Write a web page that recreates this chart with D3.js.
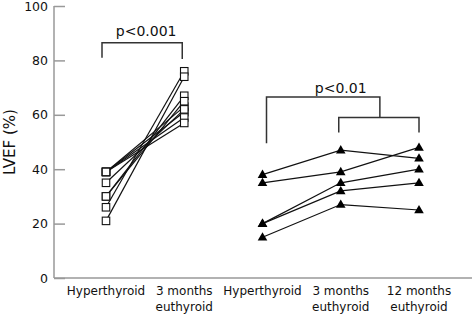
<!DOCTYPE html>
<html>
<head>
<meta charset="utf-8">
<script src="https://cdn.jsdelivr.net/npm/d3@7"></script>
<style>
  body { margin: 0; background: #fff; }
  svg { font-family: 'DejaVu Sans', sans-serif; }
  .axis path, .axis line { stroke: #999; stroke-width: 1.5; }
  .subject { fill: none; stroke: #111; stroke-width: 1.2; }
  .bracket { fill: none; stroke: #333; stroke-width: 1.5; }
</style>
</head>
<body>
<div id="chart"></div>
<script>
// Data
const CATEGORIES = ['g1-hyper', 'g1-3m', 'g2-hyper', 'g2-3m', 'g2-12m'];
const CATEGORY_LABELS = [
  ['Hyperthyroid'],
  ['3 months', 'euthyroid'],
  ['Hyperthyroid'],
  ['3 months', 'euthyroid'],
  ['12 months', 'euthyroid']
];
const Y_TICKS = [0, 20, 40, 60, 80, 100];

// group 1 (squares): hyperthyroid -> 3 months euthyroid
const GROUP1_HYPER = [39, 39, 39, 39, 35, 30, 30, 26, 21];
const GROUP1_3M = [63, 61, 59, 57, 62, 67, 65, 76, 74];

// group 2 (triangles): hyperthyroid -> 3 months -> 12 months
const GROUP2_HYPER = [38, 35, 20, 20, 15];
const GROUP2_3M = [47, 39, 35, 32, 27];
const GROUP2_12M = [44, 48, 40, 35, 25];

const P_LABELS = ['p<0.001', 'p<0.01'];

const WIDTH = 472;
const HEIGHT = 316;
const MARGIN = { left: 54, top: 6, bottom: 38 };

const svg = d3.select('#chart')
  .append('svg')
  .attr('width', WIDTH)
  .attr('height', HEIGHT);

const yScale = d3.scaleLinear()
  .domain([0, 100])
  .range([HEIGHT - MARGIN.bottom, MARGIN.top]);

const xScale = d3.scalePoint()
  .domain(CATEGORIES)
  .range([106, 419]);

// y axis, ticks pointing inward
svg.append('g')
  .attr('class', 'axis')
  .attr('transform', `translate(${MARGIN.left},0)`)
  .call(d3.axisLeft(yScale).tickValues(Y_TICKS).tickSize(-11).tickPadding(6).tickSizeOuter(0))
  .attr('font-size', 12.5)
  .attr('font-family', null)
  .call(g => g.select('.domain').attr('d', `M0,${yScale(100)}V${yScale(0)}`))
  .call(g => g.selectAll('text').attr('fill', '#111'));

// x axis baseline
svg.append('line')
  .attr('x1', MARGIN.left)
  .attr('x2', WIDTH)
  .attr('y1', yScale(0))
  .attr('y2', yScale(0))
  .attr('stroke', '#999')
  .attr('stroke-width', 1.5);

// category labels
const catLabels = svg.append('g')
  .attr('font-size', 12)
  .attr('fill', '#111')
  .attr('text-anchor', 'middle');
CATEGORIES.forEach((c, i) => {
  const t = catLabels.append('text')
    .attr('x', xScale(c))
    .attr('y', yScale(0) + 17);
  CATEGORY_LABELS[i].forEach((line, j) => {
    t.append('tspan')
      .attr('x', xScale(c))
      .attr('dy', j === 0 ? 0 : 15.5)
      .text(line);
  });
});

// y axis title
svg.append('text')
  .attr('transform', `translate(15,${(yScale(0) + yScale(100)) / 2}) rotate(-90)`)
  .attr('text-anchor', 'middle')
  .attr('font-size', 15)
  .attr('fill', '#111')
  .text('LVEF (%)');

// group 1 lines and squares
const line = d3.line().x(d => xScale(d[0])).y(d => yScale(d[1]));
const group1 = GROUP1_HYPER.map((v, i) => [['g1-hyper', v], ['g1-3m', GROUP1_3M[i]]]);
const group2 = GROUP2_HYPER.map((v, i) => [['g2-hyper', v], ['g2-3m', GROUP2_3M[i]], ['g2-12m', GROUP2_12M[i]]]);

svg.append('g')
  .selectAll('path')
  .data(group1.concat(group2))
  .join('path')
  .attr('class', 'subject')
  .attr('d', line);

const SQ = 7.5;
svg.append('g')
  .selectAll('rect')
  .data(group1.flat())
  .join('rect')
  .attr('x', d => xScale(d[0]) - SQ / 2)
  .attr('y', d => yScale(d[1]) - SQ / 2)
  .attr('width', SQ)
  .attr('height', SQ)
  .attr('fill', '#fff')
  .attr('stroke', '#111')
  .attr('stroke-width', 1.1);

const triangle = d3.symbol().type(d3.symbolTriangle).size(40);
svg.append('g')
  .selectAll('path')
  .data(group2.flat())
  .join('path')
  .attr('transform', d => `translate(${xScale(d[0])},${yScale(d[1]) + 0.5})`)
  .attr('d', triangle)
  .attr('fill', '#000');

// significance brackets
const brackets = svg.append('g').attr('class', 'bracket');
const b1y = yScale(86.5);
brackets.append('path')
  .attr('d', `M${xScale('g1-hyper') - 4},${yScale(81)}V${b1y}H${xScale('g1-3m') - 2}V${yScale(80.5)}`);

const b2y = yScale(66.5);
const b2inner = yScale(59);
const innerMid = (xScale('g2-3m') + xScale('g2-12m')) / 2;
brackets.append('path')
  .attr('d', `M${xScale('g2-hyper') + 4},${yScale(49.5)}V${b2y}H${innerMid}V${b2inner}`);
brackets.append('path')
  .attr('d', `M${xScale('g2-3m') - 2},${yScale(53.5)}V${b2inner}H${xScale('g2-12m')}V${yScale(53.5)}`);

svg.append('text')
  .attr('x', (xScale('g1-hyper') + xScale('g1-3m')) / 2 + 1)
  .attr('y', b1y - 7)
  .attr('text-anchor', 'middle')
  .attr('font-size', 14)
  .attr('fill', '#111')
  .text(P_LABELS[0]);

svg.append('text')
  .attr('x', xScale('g2-3m'))
  .attr('y', b2y - 4)
  .attr('text-anchor', 'middle')
  .attr('font-size', 14)
  .attr('fill', '#111')
  .text(P_LABELS[1]);
</script>
</body>
</html>
